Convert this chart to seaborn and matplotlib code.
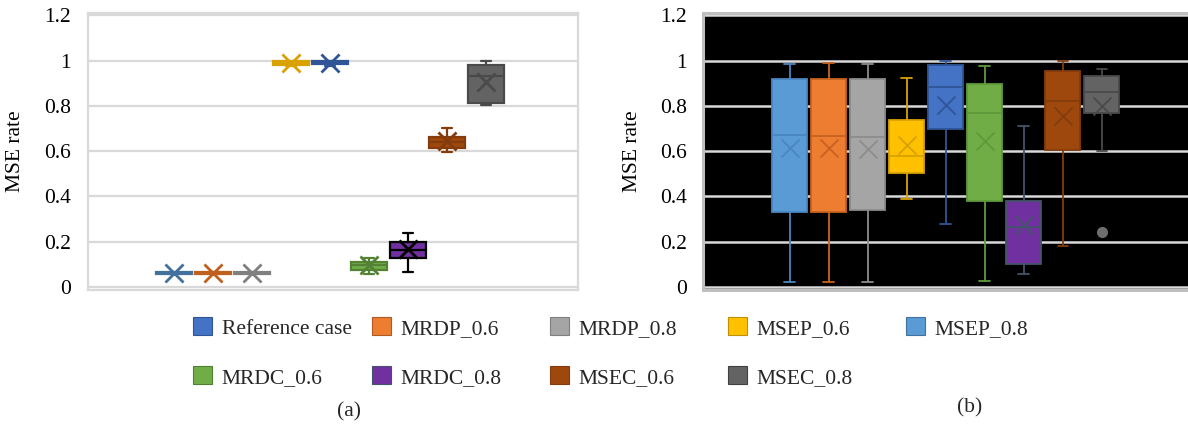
import numpy as np
import pandas as pd
import matplotlib
matplotlib.use("Agg")
import matplotlib.pyplot as plt
from matplotlib.patches import Patch
import seaborn as sns

# ---------------- data ----------------
cases = ["Reference case", "MRDP_0.6", "MRDP_0.8", "MSEP_0.6", "MSEP_0.8",
         "MRDC_0.6", "MRDC_0.8", "MSEC_0.6", "MSEC_0.8"]

# panel (a): five-number summaries and means
a_low  = [0.056, 0.056, 0.056, 0.975, 0.978, 0.056, 0.065, 0.598, 0.805]
a_q1   = [0.058, 0.058, 0.058, 0.982, 0.984, 0.074, 0.130, 0.616, 0.815]
a_med  = [0.062, 0.062, 0.062, 0.990, 0.991, 0.095, 0.165, 0.640, 0.934]
a_q3   = [0.066, 0.066, 0.066, 0.997, 0.998, 0.111, 0.199, 0.665, 0.982]
a_high = [0.068, 0.068, 0.068, 1.000, 1.000, 0.130, 0.238, 0.703, 0.997]
a_mean = [0.062, 0.062, 0.062, 0.990, 0.991, 0.095, 0.168, 0.645, 0.907]

# panel (b)
b_low  = [0.024, 0.021, 0.024, 0.390, 0.280, 0.028, 0.059, 0.180, 0.600]
b_q1   = [0.333, 0.333, 0.339, 0.504, 0.697, 0.380, 0.100, 0.607, 0.767]
b_med  = [0.670, 0.667, 0.665, 0.579, 0.884, 0.767, 0.267, 0.823, 0.864]
b_q3   = [0.920, 0.918, 0.920, 0.739, 0.982, 0.895, 0.381, 0.956, 0.931]
b_high = [0.984, 0.991, 0.984, 0.923, 0.998, 0.978, 0.711, 1.000, 0.962]
b_mean = [0.614, 0.614, 0.610, 0.626, 0.806, 0.644, 0.275, 0.754, 0.801]
b_outlier_case = ["MSEC_0.8"]
b_outlier_value = [0.244]

y_ticks = [0, 0.2, 0.4, 0.6, 0.8, 1.0, 1.2]
y_tick_labels = ["0", "0.2", "0.4", "0.6", "0.8", "1", "1.2"]
y_label = "MSE rate"
panel_labels = ["(a)", "(b)"]

# ---------------- style ----------------
box_fill = ["#5B9BD5", "#ED7D31", "#A5A5A5", "#FFC000", "#4472C4",
            "#70AD47", "#7030A0", "#9E480E", "#636363"]
edges_a = ["#41719C", "#C0601F", "#7F7F7F", "#D9A200", "#2F5597",
           "#548235", "#000000", "#843C0C", "#4A4A4A"]
edges_b = ["#4A86C0", "#C8621F", "#8C8C8C", "#D9A200", "#2F5597",
           "#5E9A3A", "#44546A", "#843C0C", "#4A4A4A"]
legend_fill = ["#4472C4", "#ED7D31", "#A5A5A5", "#FFC000", "#5B9BD5",
               "#70AD47", "#7030A0", "#9E480E", "#636363"]
legend_edge = ["#2F5597", "#AE5A21", "#7F7F7F", "#BF9000", "#41719C",
               "#507E32", "#44546A", "#843C0C", "#404040"]

sns.set_theme(style="white")
plt.rcParams["font.family"] = ["Liberation Serif", "DejaVu Serif"]
FS = 15.5

W, H = 1188, 425
fig = plt.figure(figsize=(W / 100, H / 100), dpi=100)


def px_axes(l, t, r, b):
    return fig.add_axes([l / W, 1 - b / H, (r - l) / W, (b - t) / H])


def long_table(low, q1, med, q3, high):
    rows = []
    for c, vals in zip(cases, zip(low, q1, med, q3, high)):
        for v in vals:
            rows.append((c, v))
    return pd.DataFrame(rows, columns=["case", "value"])


def draw_panel(ax, df, means, edges, lw, mean_size, mean_lw):
    for i, c in enumerate(cases):
        sub = df[df["case"] == c]
        sns.boxplot(data=sub, x="case", y="value", order=cases,
                    color=box_fill[i], linecolor=edges[i], linewidth=lw,
                    width=0.9, whis=(0, 100), saturation=1,
                    capwidths=0.27, ax=ax)
    mdf = pd.DataFrame({"case": cases, "mean": means})
    for i, c in enumerate(cases):
        sns.stripplot(data=mdf[mdf["case"] == c], x="case", y="mean",
                      order=cases, jitter=False, marker="x", size=mean_size,
                      color=edges[i], linewidth=mean_lw, ax=ax, zorder=5)


# ---------------- panel (a) ----------------
ax_a = px_axes(88, 13, 578, 290)
df_a = long_table(a_low, a_q1, a_med, a_q3, a_high)
draw_panel(ax_a, df_a, a_mean, edges_a, 1.6, 13, 2.0)
ax_a.set_xlim(-2.205, 10.36)
ax_a.set_facecolor("white")
ax_a.grid(axis="y", color="#D9D9D9", linewidth=1.6)
ax_a.grid(axis="x", visible=False)
for s in ax_a.spines.values():
    s.set_color("#D9D9D9")
    s.set_linewidth(1.6)
    s.set_visible(True)

# ---------------- panel (b) ----------------
ax_b = px_axes(703, 13, 1190, 290)
df_b = long_table(b_low, b_q1, b_med, b_q3, b_high)
draw_panel(ax_b, df_b, b_mean, edges_b, 1.3, 13, 1.3)
odf = pd.DataFrame({"case": b_outlier_case, "value": b_outlier_value})
sns.stripplot(data=odf, x="case", y="value", order=cases, jitter=False,
              color="#6E6E6E", size=8, linewidth=0, ax=ax_b, zorder=5)
ax_b.set_xlim(-2.22, 10.26)
ax_b.set_facecolor("black")
ax_b.grid(axis="y", color="#D9D9D9", linewidth=1.8)
ax_b.grid(axis="x", visible=False)
for s in ax_b.spines.values():
    s.set_color("#BFBFBF")
    s.set_linewidth(2.2)
    s.set_visible(True)

for ax, pad in ((ax_a, 12.2), (ax_b, 11.5)):
    ax.set_axisbelow(True)
    ax.set_ylim(-0.0133, 1.211)
    ax.set_yticks(y_ticks)
    ax.set_yticklabels(y_tick_labels, fontsize=FS, color="black")
    ax.tick_params(axis="y", length=0, pad=pad)
    ax.set_xticks([])
    ax.set_xlabel("")
    ax.set_ylabel(y_label, fontsize=FS, color="black")
ax_a.yaxis.set_label_coords(-0.128, 0.5)
ax_b.yaxis.set_label_coords(-0.126, 0.5)

# ---------------- legend ----------------
legend_x = [193, 372, 550, 728, 906]
legend_y = [328, 377]
for i, c in enumerate(cases):
    row, col = (0, i) if i < 5 else (1, i - 5)
    h = Patch(facecolor=legend_fill[i], edgecolor=legend_edge[i], linewidth=0.8)
    fig.legend(handles=[h], labels=[c], loc="center left",
               bbox_to_anchor=(legend_x[col] / W, 1 - legend_y[row] / H),
               frameon=False, borderpad=0, borderaxespad=0,
               handlelength=0.88, handleheight=0.88, handletextpad=0.46,
               fontsize=FS)

fig.text(349 / W, 1 - 412 / H, panel_labels[0], fontsize=FS,
         ha="center", va="center")
fig.text(970 / W, 1 - 408 / H, panel_labels[1], fontsize=FS,
         ha="center", va="center")

fig.savefig("out.png", dpi=100)
